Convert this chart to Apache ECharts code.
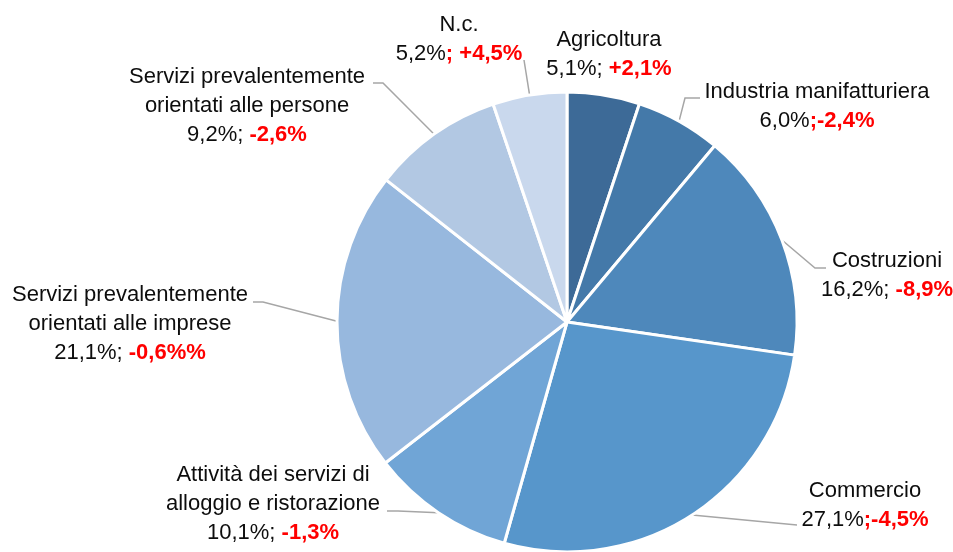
<!DOCTYPE html>
<html>
<head>
<meta charset="utf-8">
<script src="https://cdn.jsdelivr.net/npm/echarts@6/dist/echarts.min.js"></script>
<style>
html,body{margin:0;padding:0;background:#fff;}
#chart{width:953px;height:552px;}
</style>
</head>
<body>
<div id="chart"></div>
<script>
// ---- data ----
const categories = [
  'Agricoltura',
  'Industria manifatturiera',
  'Costruzioni',
  'Commercio',
  'Attività dei servizi di\nalloggio e ristorazione',
  'Servizi prevalentemente\norientati alle imprese',
  'Servizi prevalentemente\norientati alle persone',
  'N.c.'
];
const shares = [5.1, 6.0, 16.2, 27.1, 10.1, 21.1, 9.2, 5.2];
const shareSeparators = ['; ', '', '; ', '', '; ', '; ', '; ', ''];
const changeLabels = ['+2,1%', ';-2,4%', '-8,9%', ';-4,5%', '-1,3%', '-0,6%%', '-2,6%', '; +4,5%'];

// ---- styling / layout (not data) ----
const colors = ['#3d6a97', '#4479a9', '#4e88bb', '#5796cb', '#70a5d6', '#97b8de', '#b2c8e3', '#c9d8ed'];
const labelPos = [
  {x: 609, y: 54},
  {x: 817, y: 106, bend: [685, 98], end: [700, 98]},
  {x: 887, y: 275, bend: [815, 268], end: [826, 268]},
  {x: 865, y: 505, bend: [797, 525], end: [797, 525]},
  {x: 273, y: 504, bend: [398, 511], end: [387, 511]},
  {x: 130, y: 324, bend: [263, 302], end: [253, 302]},
  {x: 247, y: 106, bend: [383, 83], end: [373, 83]},
  {x: 459, y: 39, bend: [524, 60], end: [524, 60]}
];

const FONT = '"Liberation Sans", Arial, sans-serif';
const fmt = v => v.toFixed(1).replace('.', ',') + '%';

const data = categories.map((name, i) => ({
  name: name,
  value: shares[i],
  itemStyle: {color: colors[i]},
  labelLine: {show: !!labelPos[i].bend}
}));

const chart = echarts.init(document.getElementById('chart'), null, {renderer: 'canvas'});
chart.setOption({
  animation: false,
  backgroundColor: '#ffffff',
  series: [{
    type: 'pie',
    center: [567, 322],
    radius: 230,
    startAngle: 90,
    clockwise: true,
    data: data,
    itemStyle: {borderColor: '#ffffff', borderWidth: 3},
    label: {
      show: true,
      position: 'outside',
      overflow: 'none',
      width: 400,
      fontFamily: FONT,
      formatter: function (p) {
        const i = p.dataIndex;
        const nameLines = categories[i].split('\n').map(s => '{n|' + s + '}').join('\n');
        const last = '{v|' + fmt(shares[i]) + shareSeparators[i] + '}{r|' + changeLabels[i] + '}';
        return nameLines + '\n' + last;
      },
      rich: {
        n: {fontFamily: FONT, fontSize: 22, lineHeight: 29, color: '#0d0d0d', align: 'center'},
        v: {fontFamily: FONT, fontSize: 22, lineHeight: 29, color: '#0d0d0d'},
        r: {fontFamily: FONT, fontSize: 22, lineHeight: 29, color: '#ff0000', fontWeight: 'bold'}
      },
      align: 'center'
    },
    labelLine: {
      show: true,
      lineStyle: {color: '#a6a6a6', width: 1.5}
    },
    labelLayout: function (params) {
      const lp = labelPos[params.dataIndex];
      const out = {x: lp.x, y: lp.y, align: 'center', verticalAlign: 'middle', hideOverlap: false, moveOverlap: false};
      if (lp.bend && params.labelLinePoints) {
        out.labelLinePoints = [params.labelLinePoints[0], lp.bend, lp.end];
      }
      return out;
    }
  }]
});
</script>
</body>
</html>
